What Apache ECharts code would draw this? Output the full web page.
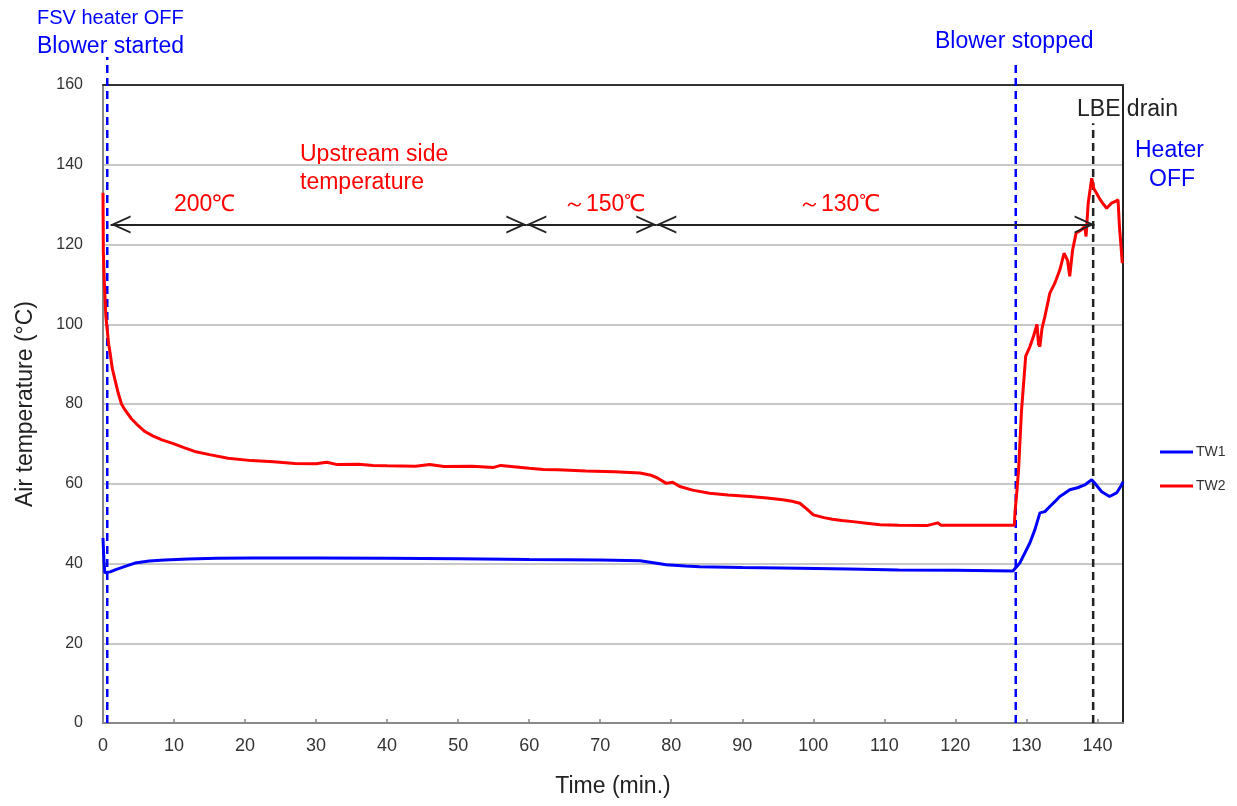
<!DOCTYPE html>
<html>
<head>
<meta charset="utf-8">
<script src="https://cdn.jsdelivr.net/npm/echarts@6/dist/echarts.min.js"></script>
<style>html,body{margin:0;padding:0;background:#fff;}#c{width:1237px;height:806px;}</style>
</head>
<body>
<div id="c"></div>
<script>
// ---- data ----
const tw2Time = [0, 0.05, 0.2, 0.4, 0.6, 0.8, 1.0, 1.3, 1.7, 2.1, 2.6, 3.1, 4, 5, 5.9, 7, 8.3, 10, 11.5, 12.9, 15, 17.6, 20.9, 24, 27, 30, 31.5, 33, 36, 38, 40, 44, 46, 48, 52, 55, 56, 60, 62, 64, 68, 72, 75.6, 77, 78, 79.3, 80.2, 81.2, 83, 85.4, 88, 91.1, 93.5, 95.7, 97, 98.1, 99, 100, 101.5, 102.7, 104, 105.6, 107.5, 109.4, 112, 116, 117.5, 118, 120, 124, 128.3, 128.4, 128.6, 128.9, 129.3, 129.6, 129.9, 130.5, 131, 131.5, 131.7, 131.9, 132.2, 132.6, 133.3, 134, 134.7, 135.3, 135.8, 136.1, 136.5, 137, 137.6, 138.2, 138.4, 138.7, 139.2, 139.5, 139.9, 140.3, 140.6, 141.3, 142, 142.5, 142.9, 143.1, 143.3, 143.5];
const tw2Temp = [133, 118, 110, 102, 98.5, 95, 92.8, 89, 86, 83, 80, 78.5, 76.3, 74.5, 73.1, 72, 71, 70, 69, 68.1, 67.3, 66.4, 65.8, 65.5, 65.1, 65.0, 65.4, 64.8, 64.9, 64.6, 64.5, 64.4, 64.8, 64.3, 64.4, 64.1, 64.6, 63.9, 63.6, 63.5, 63.2, 63.0, 62.7, 62.2, 61.5, 60.1, 60.4, 59.3, 58.4, 57.6, 57.2, 56.8, 56.4, 56.0, 55.6, 55.1, 53.8, 52.2, 51.5, 51.1, 50.8, 50.5, 50.1, 49.7, 49.6, 49.5, 50.2, 49.6, 49.6, 49.6, 49.6, 53, 56.8, 63.5, 78, 85, 92, 94.4, 97, 100, 95, 94.4, 99, 101.9, 107.8, 110.3, 113.6, 117.8, 116, 112, 118.6, 122.9, 123.5, 124.5, 122, 130.4, 136.6, 134, 132.8, 131.5, 130.7, 129.1, 130.4, 130.8, 131.2, 124.5, 120, 115.3];

const tw1Time = [0, 0.1, 0.25, 0.5, 1, 1.7, 3, 4.5, 6.5, 8.7, 12, 16, 21, 30, 40, 50, 60, 70, 75.6, 77.5, 79.3, 82, 84, 90, 98, 105, 112, 120, 128.1, 129.1, 130.5, 131.2, 131.9, 132.6, 133.3, 134, 134.7, 135.4, 136.1, 137.2, 138.2, 139.2, 139.6, 140.6, 141.7, 142.7, 143.4, 143.6];
const tw1Temp = [46.4, 42, 37.7, 37.6, 37.9, 38.4, 39.2, 40.1, 40.6, 40.9, 41.1, 41.3, 41.4, 41.4, 41.3, 41.2, 41.0, 40.9, 40.7, 40.2, 39.7, 39.4, 39.2, 39.0, 38.8, 38.6, 38.4, 38.3, 38.1, 40.2, 45.2, 48.5, 52.7, 53.0, 54.3, 55.5, 56.8, 57.6, 58.5, 59.0, 59.7, 61.0, 60.2, 58.0, 56.8, 57.7, 59.7, 60.5];

const xAxisMin = 0, xAxisMax = 143.6, xAxisStep = 10;
const yAxisMin = 0, yAxisMax = 160, yAxisStep = 20;

// event markers (time, top of dashed line in °C)
const blowerStartTime = 0.6,  blowerStartTop = 167;
const blowerStopTime = 128.5, blowerStopTop = 165;
const lbeDrainTime = 139.4,   lbeDrainTop = 150.4;

// heater set-point period arrows: [start, end] in minutes, at temperature level
const arrowLevel = 125;
const arrowSegments = [[1.07, 59.6], [59.6, 77.9], [77.9, 139.6]];

const FONT = '"Liberation Sans", Arial, sans-serif';
const BLUE = '#0000ff', RED = '#ff0000';

const zip = (a, b) => a.map((v, i) => [v, b[i]]);
const chevron = 'path://M0,0 L9,20 L7,20 L0,4.4 L-7,20 L-9,20 Z';

function vline(name, t, top, color) {
  return {
    name: name, type: 'line', data: [[t, 0], [t, top]], clip: false, silent: true,
    symbol: 'none', lineStyle: { color: color, width: 2.5, type: [8, 5] }, z: 3
  };
}

const chart = echarts.init(document.getElementById('c'), null, { renderer: 'canvas' });
chart.setOption({
  animation: false,
  backgroundColor: '#fff',
  textStyle: { fontFamily: FONT },
  grid: { left: 103, right: 114, top: 85, bottom: 83, show: false, containLabel: false },
  legend: {
    data: ['TW1', 'TW2'], orient: 'vertical', left: 1160, top: 444, padding: 0,
    icon: 'rect', itemWidth: 33, itemHeight: 3, itemGap: 18,
    textStyle: { fontSize: 14, color: '#333', fontFamily: FONT, lineHeight: 16, padding: [0, 0, 0, -2] }
  },
  xAxis: [{
    type: 'value', min: xAxisMin, max: xAxisMax, interval: xAxisStep,
    name: 'Time (min.)', nameLocation: 'middle', nameGap: 52,
    nameTextStyle: { fontSize: 23, color: '#222', fontFamily: FONT },
    axisLine: { show: true, onZero: false, lineStyle: { color: '#888', width: 2 } },
    axisTick: { show: true, inside: true, length: 4, lineStyle: { color: '#888', width: 1.5 } },
    axisLabel: { fontSize: 18, color: '#333', margin: 14, showMaxLabel: false, fontFamily: FONT },
    splitLine: { show: false }
  }, {
    type: 'value', position: 'top', min: xAxisMin, max: xAxisMax, interval: xAxisStep,
    axisLine: { show: true, onZero: false, lineStyle: { color: '#333', width: 2 } },
    axisTick: { show: false }, axisLabel: { show: false }, splitLine: { show: false }
  }],
  yAxis: [{
    type: 'value', min: yAxisMin, max: yAxisMax, interval: yAxisStep,
    name: 'Air temperature (°C)', nameLocation: 'middle', nameGap: 66,
    nameTextStyle: { fontSize: 23, color: '#222', fontFamily: FONT },
    axisLine: { show: true, onZero: false, lineStyle: { color: '#888', width: 2 } },
    axisTick: { show: false },
    axisLabel: { fontSize: 16, color: '#333', margin: 20, fontFamily: FONT },
    splitLine: { show: true, lineStyle: { color: '#c8c8c8', width: 2 } }
  }, {
    type: 'value', position: 'right', min: yAxisMin, max: yAxisMax, interval: yAxisStep,
    axisLine: { show: true, onZero: false, lineStyle: { color: '#222', width: 2 } },
    axisTick: { show: false }, axisLabel: { show: false }, splitLine: { show: false }
  }],
  series: [
    { name: 'TW1', type: 'line', data: zip(tw1Time, tw1Temp), symbol: 'none', color: BLUE,
      lineStyle: { color: BLUE, width: 3 }, z: 4 },
    { name: 'TW2', type: 'line', data: zip(tw2Time, tw2Temp), symbol: 'none', color: RED,
      lineStyle: { color: RED, width: 3 }, z: 4 },
    vline('blowerStart', blowerStartTime, blowerStartTop, BLUE),
    vline('blowerStop', blowerStopTime, blowerStopTop, BLUE),
    vline('lbeDrain', lbeDrainTime, lbeDrainTop, '#222'),
    {
      name: 'arrows', type: 'line', data: [], silent: true, z: 5,
      markLine: {
        silent: true, animation: false,
        symbol: [chevron, chevron], symbolSize: [18, 20], symbolOffset: [[0, 10], [0, 10]],
        label: { show: false },
        lineStyle: { color: '#222', width: 2, type: 'solid' },
        data: arrowSegments.map(s => [{ coord: [s[0], arrowLevel] }, { coord: [s[1], arrowLevel] }])
      }
    }
  ],
  graphic: [
    { type: 'text', left: 37, top: 8, style: { text: 'FSV heater OFF', font: '20px ' + FONT, fill: BLUE } },
    { type: 'text', left: 37, top: 35, style: { text: 'Blower started', font: '23px ' + FONT, fill: BLUE } },
    { type: 'text', left: 935, top: 30, style: { text: 'Blower stopped', font: '23px ' + FONT, fill: BLUE } },
    { type: 'text', left: 1077, top: 98, style: { text: 'LBE drain', font: '23px ' + FONT, fill: '#222' } },
    { type: 'text', left: 1135, top: 139, style: { text: 'Heater', font: '23px ' + FONT, fill: BLUE } },
    { type: 'text', left: 1149, top: 168, style: { text: 'OFF', font: '23px ' + FONT, fill: BLUE } },
    { type: 'text', left: 300, top: 143, style: { text: 'Upstream side', font: '23px ' + FONT, fill: RED } },
    { type: 'text', left: 300, top: 171, style: { text: 'temperature', font: '23px ' + FONT, fill: RED } },
    { type: 'text', left: 174, top: 193, style: { text: '200℃', font: '23px ' + FONT, fill: RED } },
    { type: 'text', left: 563, top: 193, style: { text: '～150℃', font: '23px ' + FONT, fill: RED } },
    { type: 'text', left: 798, top: 193, style: { text: '～130℃', font: '23px ' + FONT, fill: RED } }
  ]
});
</script>
</body>
</html>
